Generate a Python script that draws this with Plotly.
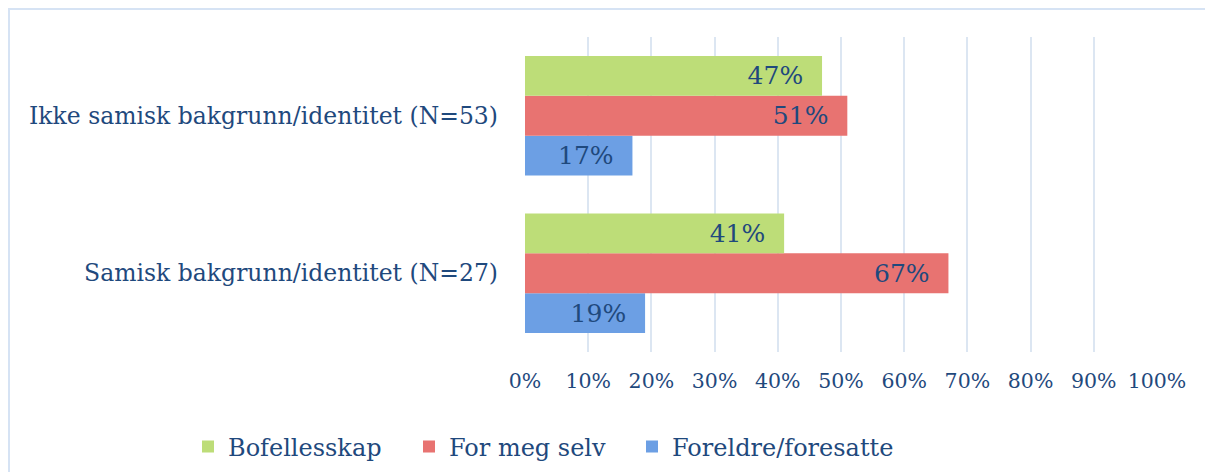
import plotly.graph_objects as go

# Data
categories = ["Samisk bakgrunn/identitet (N=27)", "Ikke samisk bakgrunn/identitet (N=53)"]
bofellesskap = [41, 47]
for_meg_selv = [67, 51]
foreldre = [19, 17]
tick_vals = [0, 10, 20, 30, 40, 50, 60, 70, 80, 90, 100]
tick_text = [f"{v}%" for v in tick_vals]

FONT = "DejaVu Serif"
TXT = "#1f497d"

# page has an 8px body margin, so figure coords = page coords - 8
OFF = 8
W, H = 1213, 472
L = 525 - OFF
R = W - (1157 - OFF)
T = 37 - OFF
B = H - (353 - OFF)
pw = W - L - R
ph = H - T - B

fig = go.Figure()

# plotly stacks horizontal groups bottom-up, so add the bottom series first;
# each series gets its own legend so the entries can be spaced like the original
series = [
    ("Foreldre/foresatte", foreldre, "#6c9fe4", "legend3"),
    ("For meg selv", for_meg_selv, "#e87371", "legend2"),
    ("Bofellesskap", bofellesskap, "#bddd78", "legend"),
]
for name, vals, color, leg in series:
    fig.add_trace(go.Bar(
        y=categories, x=vals, name=name, orientation="h", legend=leg,
        showlegend=True,
        marker=dict(color=color, line=dict(width=0)),
        # non-breaking spaces keep the label away from the bar end
        text=[f"{v}%\u00a0\u00a0" for v in vals], textposition="inside",
        insidetextanchor="end",
        textfont=dict(family=FONT, size=25, color=TXT),
    ))

fig.add_shape(
    type="rect", xref="paper", yref="paper",
    x0=(1 - L) / pw, x1=(1204 - OFF + 10 - L) / pw,
    y0=(ph - (H + 20 - T)) / ph, y1=(ph - (1 - T)) / ph,
    line=dict(color="#d6e3f4", width=2), layer="below",
)


def legend_at(page_x):
    return dict(
        orientation="h",
        x=(page_x - OFF - L) / pw, xanchor="left",
        y=(ph - (447 - OFF - T)) / ph, yanchor="middle",
        font=dict(family=FONT, size=24, color=TXT),
        itemwidth=30, bgcolor="rgba(0,0,0,0)",
    )


fig.update_layout(
    width=W, height=H,
    margin=dict(l=L, r=R, t=T, b=B),
    barmode="group", bargap=0.24, bargroupgap=0,
    plot_bgcolor="white", paper_bgcolor="white",
    font=dict(family=FONT, color=TXT, size=23),
    showlegend=True,
    legend=legend_at(188),
    legend2=legend_at(409),
    legend3=legend_at(632),
    uniformtext=dict(minsize=10, mode="show"),
)
fig.update_xaxes(
    range=[0, 100], tickvals=tick_vals, ticktext=tick_text,
    showgrid=True, gridcolor="#dce6f2", gridwidth=2,
    zeroline=False, showline=False, ticks="", ticklabelstandoff=14,
    tickfont=dict(family=FONT, size=20.5, color=TXT),
)
fig.update_yaxes(
    showgrid=False, showline=False, ticks="", ticklabelstandoff=26,
    tickfont=dict(family=FONT, size=23.5, color=TXT),
)

fig.write_html("out.html")
